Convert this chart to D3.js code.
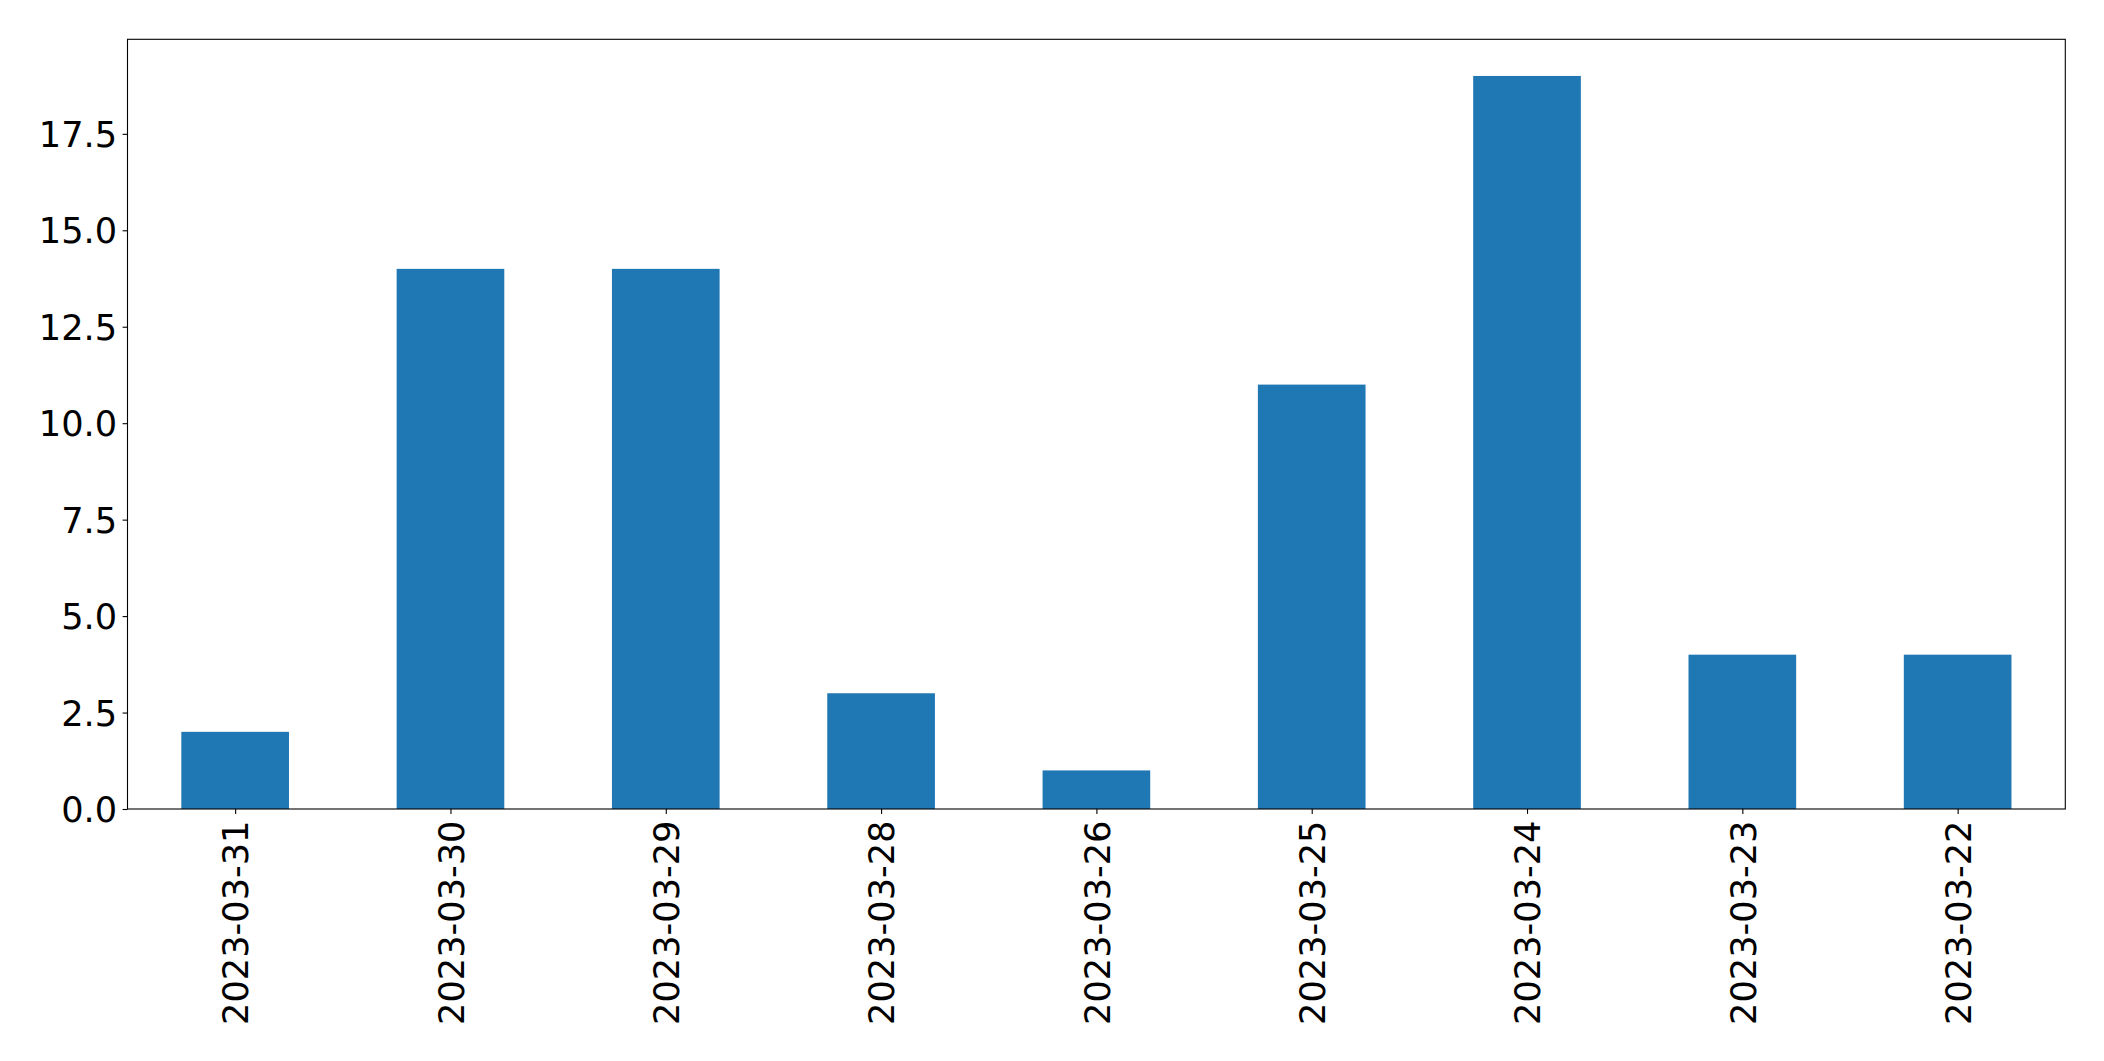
<!DOCTYPE html>
<html><head><meta charset="utf-8">
<script src="https://cdn.jsdelivr.net/npm/d3@7"></script>
<style>html,body{margin:0;padding:0;background:#fff;}svg{display:block;}</style>
</head><body>
<script>
const categories = ["2023-03-31","2023-03-30","2023-03-29","2023-03-28","2023-03-26","2023-03-25","2023-03-24","2023-03-23","2023-03-22"];
const values = [2, 14, 14, 3, 1, 11, 19, 4, 4];
const yTicks = [0, 2.5, 5, 7.5, 10, 12.5, 15, 17.5];

const W = 2104, H = 1061;
const mLeft = 127.5, mRight = 2065.3, mTop = 39.3, mBottom = 809;
const fontSize = 35.2;
const font = "'DejaVu Sans', sans-serif";

const svg = d3.select("body").append("svg").attr("width", W).attr("height", H);

const x = d3.scaleLinear().domain([-0.5, categories.length - 0.5]).range([mLeft, mRight]);
const y = d3.scaleLinear().domain([0, d3.max(values) * 1.05]).range([mBottom, mTop]);

svg.append("g").selectAll("rect").data(values).join("rect")
  .attr("x", (d, i) => x(i - 0.25))
  .attr("width", (d, i) => x(i + 0.25) - x(i - 0.25))
  .attr("y", d => y(d))
  .attr("height", d => y(0) - y(d))
  .attr("fill", "#1f77b4");

const yAxis = d3.axisLeft(y).tickValues(yTicks).tickFormat(d3.format(".1f")).tickSize(4.9).tickPadding(5.5);
const gy = svg.append("g").attr("transform", `translate(${mLeft},0)`).call(yAxis);
gy.select(".domain").remove();
gy.selectAll("line").attr("stroke", "#000").attr("stroke-width", 1.1);
gy.selectAll("text").attr("font-family", font).attr("font-size", fontSize).attr("fill", "#000").attr("dy", "0.36em");

const xAxis = d3.axisBottom(x).tickValues(d3.range(categories.length)).tickFormat(i => categories[i]).tickSize(4.9).tickPadding(4.9);
const gx = svg.append("g").attr("transform", `translate(0,${mBottom})`).call(xAxis);
gx.select(".domain").remove();
gx.selectAll("line").attr("stroke", "#000").attr("stroke-width", 1.1);
gx.selectAll("text")
  .attr("font-family", font).attr("font-size", fontSize).attr("fill", "#000")
  .attr("text-anchor", "end")
  .attr("x", 0).attr("y", 0).attr("dy", "0.36em")
  .attr("transform", "translate(0,11.5) rotate(-90)");

svg.append("rect").attr("x", mLeft).attr("y", mTop).attr("width", mRight - mLeft).attr("height", mBottom - mTop)
  .attr("fill", "none").attr("stroke", "#000").attr("stroke-width", 1.1);
</script>
</body></html>
